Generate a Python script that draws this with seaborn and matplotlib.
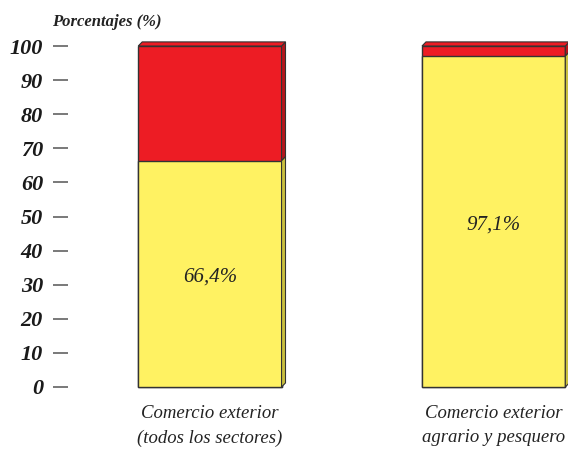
import matplotlib
matplotlib.use("Agg")
import matplotlib.pyplot as plt
import seaborn as sns
import pandas as pd
from matplotlib.patches import Polygon

# data
categorias = ["Comercio exterior\n(todos los sectores)", "Comercio exterior\nagrario y pesquero"]
total = [100, 100]
valores = [66.4, 97.1]
etiquetas = ["66,4%", "97,1%"]
yticks = [0, 10, 20, 30, 40, 50, 60, 70, 80, 90, 100]

amarillo = "#FFF262"
rojo = "#ED1C24"
borde = "#333333"

sns.set_style("white")
plt.rcParams["font.family"] = ["Liberation Serif", "DejaVu Serif"]

df = pd.DataFrame({"cat": categorias, "total": total, "valor": valores})

fig = plt.figure(figsize=(5.68, 4.5), dpi=100)
ax = fig.add_axes([68 / 568, 63 / 450, 1 - 68 / 568, (387 - 30) / 450])

sns.barplot(data=df, x="cat", y="total", color=rojo, saturation=1, width=0.505,
            edgecolor=borde, linewidth=1, ax=ax)
sns.barplot(data=df, x="cat", y="valor", color=amarillo, saturation=1, width=0.505,
            edgecolor=borde, linewidth=1, ax=ax)

# 3D side and top faces
dx, dy = 0.014, 1.2
bars = list(ax.patches)
for b in bars:
    b.set_clip_on(False)
n = len(categorias)
for i in range(n):
    top_bar = bars[i]
    low_bar = bars[n + i]
    x0 = top_bar.get_x()
    x1 = x0 + top_bar.get_width()
    h_low = low_bar.get_height()
    h_top = top_bar.get_height()
    # side faces
    ax.add_patch(Polygon([(x1, 0), (x1 + dx, dy), (x1 + dx, h_low + dy), (x1, h_low)],
                         closed=True, facecolor="#C9BF3E", edgecolor=borde, lw=0.8,
                         zorder=1, clip_on=False))
    ax.add_patch(Polygon([(x1, h_low), (x1 + dx, h_low + dy), (x1 + dx, h_top + dy), (x1, h_top)],
                         closed=True, facecolor="#B5161C", edgecolor=borde, lw=0.8,
                         zorder=1, clip_on=False))
    # top face
    ax.add_patch(Polygon([(x0, h_top), (x0 + dx, h_top + dy), (x1 + dx, h_top + dy), (x1, h_top)],
                         closed=True, facecolor=rojo, edgecolor=borde, lw=0.8,
                         zorder=1, clip_on=False))
    ax.text(i, h_low / 2 - 1, etiquetas[i], ha="center", va="center",
            fontsize=15, style="italic", color="#222222")

ax.set_xlim(-0.5, 1.262)
ax.set_ylim(0, (387 - 30) / 3.41)
ax.set_yticks(yticks)
ax.set_yticklabels([str(t) for t in yticks], fontsize=16, fontweight="bold",
                   style="italic", color="#1a1a1a")
ax.tick_params(axis="y", length=11, width=1.1, pad=7, color="#555555", left=True, direction="out")
ax.tick_params(axis="x", length=0, pad=13, labelsize=13.5, labelcolor="#222222")
for lab in ax.get_xticklabels():
    lab.set_style("italic")
    lab.set_linespacing(1.55)
ax.set_xlabel("")
ax.set_ylabel("")
sns.despine(ax=ax, left=True, bottom=True)

fig.text(52 / 568, 1 - 22 / 450, "Porcentajes (%)", fontsize=12, fontweight="bold",
         style="italic", ha="left", va="center", color="#222222")

fig.savefig("out.png", dpi=100)
